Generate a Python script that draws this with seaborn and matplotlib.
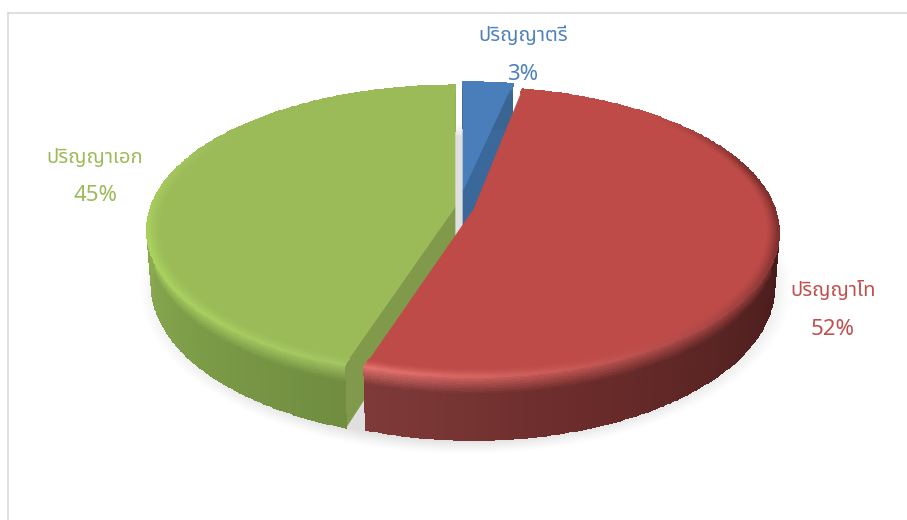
import numpy as np
import matplotlib
matplotlib.use('Agg')
from matplotlib import pyplot as plt
from matplotlib.colors import to_rgb
import seaborn as sns

# Data
labels = ['ปริญญาตรี', 'ปริญญาโท', 'ปริญญาเอก']
shares = [3, 52, 45]

# Colours
face_colors = ['#4a7ebb', '#be4b48', '#9bbb59']
text_colors = ['#4f81bd', '#c0504d', '#9bbb59']
cut_colors = ['#3a689a', '#7d3736', '#80994a']
side_stops = [
    ['#3a6593', '#3a6593'],
    ['#3c1716', '#3c1716', '#3f1818', '#4a1c1c', '#5a2524', '#6d2d2c', '#7e3a38'],
    ['#708d40', '#7d9c48', '#8aaa50', '#90b058', '#8fae55', '#8fae55'],
]
rim_stops = [
    ['#4a7ebb', '#4a7ebb'],
    ['#be4b48', '#be4b48', '#7c2f2d', '#7c2f2d', '#a94745', '#c95a57', '#e4716e'],
    ['#a4c562', '#a8cd60', '#abd35f', '#a5c95c', '#9bbb59', '#9bbb59', '#9bbb59'],
]

# Layout of the tilted pie, in picture pixels: centre x, centre y, half width, half height
geometry = [(463, 190, 306, 125), (474, 209, 301, 141), (455, 207, 304, 141)]
depth = 53
persp = 0.16
label_pos = [(523, 36, 75), (833, 291, 330), (95, 158, 196)]


def project(u, v, z, geo):
    cx, cy, a, b = geo
    s = 1 / (1 + persp * v)
    return cx + a * u * s * (1 - 0.015 * z), cy - b * v * s + depth * z * s


def blend(stops, n):
    return np.array(sns.blend_palette(stops, n_colors=n))


sns.set_theme(style='white')
plt.rcParams['font.family'] = ['Noto Sans Thai', 'Noto Sans', 'DejaVu Sans']

fig = plt.figure(figsize=(9.07, 5.2), dpi=100)
ax = fig.add_axes([8 / 907, 0, 899 / 907, 507 / 520])
ax.set_xticks([])
ax.set_yticks([])
for side in ['right', 'bottom']:
    ax.spines[side].set_visible(False)
for side in ['left', 'top']:
    ax.spines[side].set_color('#d9d9d9')
    ax.spines[side].set_linewidth(1.2)

# Soft shadow under the pie
gx, gy = np.meshgrid(np.arange(8, 907), np.arange(13, 520))
dist = np.sqrt(((gx - 465) / 327) ** 2 + ((gy - 288) / 166) ** 2)
shadow = np.zeros(gx.shape + (4,))
shadow[..., :3] = 0.55
shadow[..., 3] = np.clip((1.0 - dist) / 0.09, 0, 1) ** 1.3 * 0.28
ax.imshow(shadow, extent=(8, 907, 520, 13), aspect='auto', zorder=1, interpolation='bilinear')
ax.set_xlim(8, 907)
ax.set_ylim(520, 13)

# Clockwise from twelve o'clock, blue at the back so it is drawn first
ends = np.cumsum(shares) * 3.6
starts = ends - np.array(shares) * 3.6
z = 2
for i in [0, 2, 1]:
    geo = geometry[i]
    th = np.radians(np.linspace(starts[i], ends[i], 241))
    u, v = np.sin(th), np.cos(th)
    side_col = blend(side_stops[i], len(th) - 1)
    rim_col = blend(rim_stops[i], len(th) - 1)
    face = np.array(to_rgb(face_colors[i]))

    # Cut face along the radius that looks to the right
    cut_th = th[-1] if i == 0 else th[0] if i == 2 else None
    if cut_th is not None:
        p = [(0, 0, 0), (np.sin(cut_th), np.cos(cut_th), 0), (np.sin(cut_th), np.cos(cut_th), 1), (0, 0, 1)]
        xy = [project(a, b, c, geo) for a, b, c in p]
        ax.fill(*zip(*xy), color=cut_colors[i], lw=0.5, zorder=z)
        z += 1

    # Outer wall, highlight from the rim fades down into the wall colour
    rows = np.linspace(0, 1, 41)
    U, R = np.meshgrid(th, rows)
    X, Y = project(np.sin(U), np.cos(U), R, geo)
    mix = np.clip((rows[:-1] + 0.0125) / 0.28, 0, 1)[:, None, None]
    wall = rim_col[None, :, :] * (1 - mix) + side_col[None, :, :] * mix
    ax.pcolormesh(X, Y, wall, shading='flat', edgecolors='face', linewidth=0.3, zorder=z)
    z += 1

    # Top face
    xs, ys = project(np.r_[0, u], np.r_[0, v], 0, geo)
    ax.fill(xs, ys, color=face_colors[i], lw=0.5, zorder=z)
    z += 1

    # Bevel on the top face next to the rim
    radii = np.linspace(0.96, 1, 17)
    U, R = np.meshgrid(th, radii)
    X, Y = project(R * np.sin(U), R * np.cos(U), 0, geo)
    mix = (((radii[:-1] + radii[1:]) / 2 - 0.96) / 0.04)[:, None, None] ** 1.5
    rim = face[None, None, :] * (1 - mix) + rim_col[None, :, :] * mix
    ax.pcolormesh(X, Y, rim, shading='flat', edgecolors='face', linewidth=0.3, zorder=z)
    z += 1

for name, share, color, (x, y1, y2) in zip(labels, shares, text_colors, label_pos):
    ax.text(x, y1, name, color=color, fontsize=14.5, ha='center', va='center', zorder=z)
    ax.text(x, y2, f'{share}%', color=color, fontsize=16, ha='center', va='center', zorder=z)

fig.savefig('out.png', dpi=100)
